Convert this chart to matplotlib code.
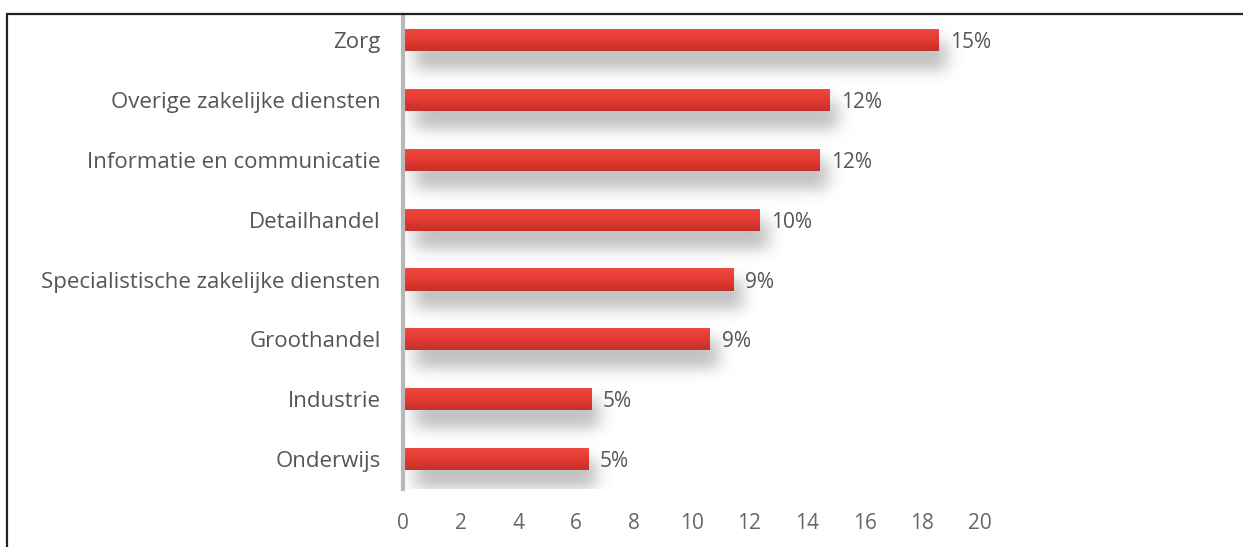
import numpy as np
import matplotlib
matplotlib.use("Agg")
import matplotlib.pyplot as plt
from matplotlib.patches import Rectangle
from matplotlib.colors import LinearSegmentedColormap

plt.rcParams['font.family'] = ['Open Sans', 'DejaVu Sans']

categories = ["Zorg", "Overige zakelijke diensten", "Informatie en communicatie",
              "Detailhandel", "Specialistische zakelijke diensten", "Groothandel",
              "Industrie", "Onderwijs"]
values = [18.55, 14.78, 14.44, 12.37, 11.47, 10.64, 6.53, 6.42]
value_labels = ["15%", "12%", "12%", "10%", "9%", "9%", "5%", "5%"]
xticks = [0, 2, 4, 6, 8, 10, 12, 14, 16, 18, 20]

W, H = 1243, 547
fig = plt.figure(figsize=(W / 100, H / 100), dpi=100)
fig.patch.set_facecolor("white")

# frame border
fig.add_artist(Rectangle((7 / W, -0.05), 1.2, 1 - 14 / H + 0.05, transform=fig.transFigure,
                         fill=False, edgecolor="#222222", linewidth=1.6))

left = 403 / W
right = 980 / W
top = 1 - 15 / H
bottom = 1 - 489 / H
ax = fig.add_axes([left, bottom, right - left, top - bottom])
ax.set_facecolor("none")

y = np.arange(len(categories))
bar_h = 22 / 59.3
ymin, ymax = -0.42, len(categories) - 0.5
xmin, xmax = 0, 21.5

# soft blurred shadow image (pixel grid in data coords)
px_per_x = (980 - 403) / 20.0
px_per_y = (489 - 15) / (ymax - ymin)
nx = int((xmax - xmin) * px_per_x)
ny = int((ymax - ymin) * px_per_y)
xs = np.linspace(xmin, xmax, nx)
ys = np.linspace(ymin, ymax, ny)
X, Y = np.meshgrid(xs, ys)
mask = np.zeros_like(X)
for yi, v in zip(y, values):
    inside = (X >= 12 / px_per_x) & (X <= v + 8 / px_per_x) & \
             (Y >= yi) & (Y <= yi + bar_h / 2 + 18 / px_per_y)
    mask[inside] = 1.0

def blur1d(a, sigma, axis):
    r = int(3 * sigma)
    k = np.exp(-0.5 * (np.arange(-r, r + 1) / sigma) ** 2)
    k /= k.sum()
    return np.apply_along_axis(lambda m: np.convolve(m, k, mode="same"), axis, a)

mask = blur1d(mask, 7, 0)
mask = blur1d(mask, 8, 1)
rgba = np.zeros((ny, nx, 4))
rgba[..., :3] = 0.42
rgba[..., 3] = mask * 0.42
ax.imshow(rgba, extent=(xmin, xmax, ymax, ymin), aspect="auto", zorder=1,
          interpolation="bilinear", clip_on=False)

bars = ax.barh(y, values, height=bar_h, color="#d9362f", edgecolor="none", zorder=3)

cmap = LinearSegmentedColormap.from_list("redgrad", ["#ee4a3f", "#e53a33", "#c4302b"])
grad = np.linspace(0, 1, 64).reshape(-1, 1)
for b in bars:
    x0, y0 = b.get_x(), b.get_y()
    w, h = b.get_width(), b.get_height()
    im = ax.imshow(grad, cmap=cmap, aspect="auto", extent=(x0, x0 + w, y0 + h, y0),
                   zorder=4, interpolation="bilinear")
    im.set_clip_path(b)
ax.set_xlim(0, 20)
ax.set_ylim(ymax, ymin)

for yi, v, lab in zip(y, values, value_labels):
    ax.text(v + 0.4, yi, lab, va="center_baseline", ha="left", fontsize=15,
            color="#555555", zorder=5, clip_on=False)

ax.set_yticks(y)
ax.set_yticklabels(categories, fontsize=16, color="#555555")
ax.set_xticks(xticks)
ax.set_xticklabels([str(t) for t in xticks], fontsize=15, color="#666666")
ax.tick_params(axis="both", length=0)
ax.tick_params(axis="y", pad=16)
ax.tick_params(axis="x", pad=17)

for s in ["top", "right", "bottom"]:
    ax.spines[s].set_visible(False)
ax.spines["left"].set_color("#b8b8b8")
ax.spines["left"].set_linewidth(3)
ax.spines["left"].set_zorder(6)

fig.savefig("out.png", dpi=100, facecolor="white")
